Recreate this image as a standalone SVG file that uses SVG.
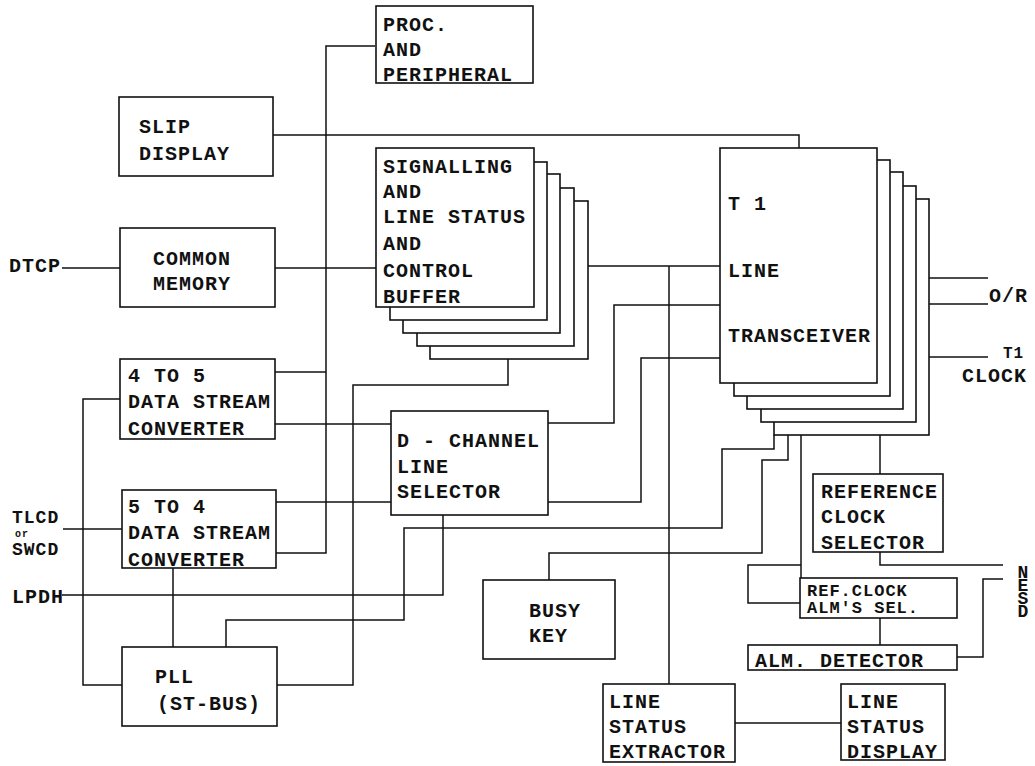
<svg xmlns="http://www.w3.org/2000/svg" width="1035" height="766" viewBox="0 0 1035 766">
<style>
.b{fill:#fff;stroke:#111;stroke-width:1.6}
.c{fill:none;stroke:#111;stroke-width:1.5}
text{font-family:"Liberation Mono","DejaVu Sans Mono",monospace;font-weight:bold;font-size:20px;letter-spacing:1px;fill:#111}
</style>
<rect width="1035" height="766" fill="#fff"/>
<g id="connectors">
<path class="c" d="M273,135 H799 V148"/>
<path class="c" d="M375,46 H326 V553 H276"/>
<path class="c" d="M62,268 H120"/>
<path class="c" d="M275,268 H376"/>
<path class="c" d="M275,372 H326"/>
<path class="c" d="M275,424 H391"/>
<path class="c" d="M120,399 H83 V685 H122"/>
<path class="c" d="M63,529 H122"/>
<path class="c" d="M173,568 V647"/>
<path class="c" d="M62,595 H443 V515"/>
<path class="c" d="M276,502 H391"/>
<path class="c" d="M277,685 H353 V385 H508 V359"/>
<path class="c" d="M226,647 V620 H404 V528 H722 V449 H774 V435"/>
<path class="c" d="M588,266 H720"/>
<path class="c" d="M669,266 V684"/>
<path class="c" d="M548,423 H614 V305 H720"/>
<path class="c" d="M548,502 H641 V358 H720"/>
<path class="c" d="M549,580 V553 H762 V460 H788 V435"/>
<path class="c" d="M801,435 V578"/>
<path class="c" d="M801,565 H748 V603 H800"/>
<path class="c" d="M880,435 V474"/>
<path class="c" d="M880,552 V565 H1003"/>
<path class="c" d="M880,618 V645"/>
<path class="c" d="M957,657 H983 V579 H1003"/>
<path class="c" d="M735,723 H841"/>
<path class="c" d="M929,278 H988"/>
<path class="c" d="M929,304 H988"/>
<path class="c" d="M929,357 H988"/>
</g>
<g id="proc">
<rect class="b" x="376" y="6" width="157" height="77"/>
<text x="383" y="31">PROC.</text>
<text x="383" y="56">AND</text>
<text x="383" y="81">PERIPHERAL</text>
</g>
<g id="slip">
<rect class="b" x="119" y="97" width="154" height="79"/>
<text x="139" y="133">SLIP</text>
<text x="139" y="160">DISPLAY</text>
</g>
<g id="common">
<rect class="b" x="120" y="228" width="155" height="79"/>
<text x="153" y="265">COMMON</text>
<text x="153" y="290">MEMORY</text>
</g>
<g id="conv45">
<rect class="b" x="120" y="359" width="155" height="80"/>
<text x="128" y="382">4 TO 5</text>
<text x="128" y="408">DATA STREAM</text>
<text x="128" y="435">CONVERTER</text>
</g>
<g id="conv54">
<rect class="b" x="122" y="490" width="154" height="78"/>
<text x="128" y="513">5 TO 4</text>
<text x="128" y="539">DATA STREAM</text>
<text x="128" y="566">CONVERTER</text>
</g>
<g id="pll">
<rect class="b" x="122" y="647" width="155" height="79"/>
<text x="155" y="683">PLL</text>
<text x="157" y="710">(ST-BUS)</text>
</g>
<g id="signalling">
<rect class="b" x="430" y="201" width="158" height="158"/>
<rect class="b" x="417" y="188" width="157" height="158"/>
<rect class="b" x="403" y="174" width="157" height="159"/>
<rect class="b" x="390" y="162" width="157" height="158"/>
<rect class="b" x="376" y="148" width="158" height="159"/>
<text x="383" y="173">SIGNALLING</text>
<text x="383" y="198">AND</text>
<text x="383" y="223">LINE STATUS</text>
<text x="383" y="250">AND</text>
<text x="383" y="277">CONTROL</text>
<text x="383" y="303">BUFFER</text>
</g>
<g id="t1">
<rect class="b" x="774" y="199" width="155" height="236"/>
<rect class="b" x="761" y="186" width="155" height="236"/>
<rect class="b" x="747" y="172" width="156" height="237"/>
<rect class="b" x="734" y="160" width="156" height="236"/>
<rect class="b" x="720" y="148" width="157" height="235"/>
<text x="728" y="210">T  1</text>
<text x="728" y="277">LINE</text>
<text x="728" y="342">TRANSCEIVER</text>
</g>
<g id="dchannel">
<rect class="b" x="391" y="411" width="157" height="104"/>
<text x="397" y="447">D - CHANNEL</text>
<text x="397" y="473">LINE</text>
<text x="397" y="498">SELECTOR</text>
</g>
<g id="busy">
<rect class="b" x="483" y="580" width="132" height="79"/>
<text x="529" y="617">BUSY</text>
<text x="529" y="642">KEY</text>
</g>
<g id="extractor">
<rect class="b" x="603" y="684" width="132" height="78"/>
<text x="609" y="708">LINE</text>
<text x="609" y="733">STATUS</text>
<text x="609" y="758">EXTRACTOR</text>
</g>
<g id="lsdisplay">
<rect class="b" x="841" y="684" width="104" height="76"/>
<text x="847" y="708">LINE</text>
<text x="847" y="733">STATUS</text>
<text x="847" y="758">DISPLAY</text>
</g>
<g id="refsel">
<rect class="b" x="813" y="474" width="130" height="78"/>
<text x="821" y="498">REFERENCE</text>
<text x="821" y="523">CLOCK</text>
<text x="821" y="549">SELECTOR</text>
</g>
<g id="refalm">
<rect class="b" x="800" y="578" width="157" height="40"/>
<text style="font-size:17px"><tspan x="807" y="596">REF.CLOCK</tspan><tspan x="807" y="613">ALM'S SEL.</tspan></text>
</g>
<g id="almdet">
<rect class="b" x="748" y="645" width="209" height="25"/>
<text x="755" y="667">ALM. DETECTOR</text>
</g>
<g id="labels">
<text x="9" y="272">DTCP</text>
<text x="12" y="523" style="font-size:18px">TLCD</text>
<text x="15" y="537" style="font-size:10px">or</text>
<text x="12" y="555" style="font-size:18px">SWCD</text>
<text x="12" y="603">LPDH</text>
<text x="989" y="302">O/R</text>
<text x="1003" y="358" style="font-size:16px">T1</text>
<text x="962" y="382">CLOCK</text>
<text x="1023" y="563" style="font-size:18px;letter-spacing:-7px;writing-mode:vertical-rl;text-orientation:upright">NESD</text>
</g>
</svg>
